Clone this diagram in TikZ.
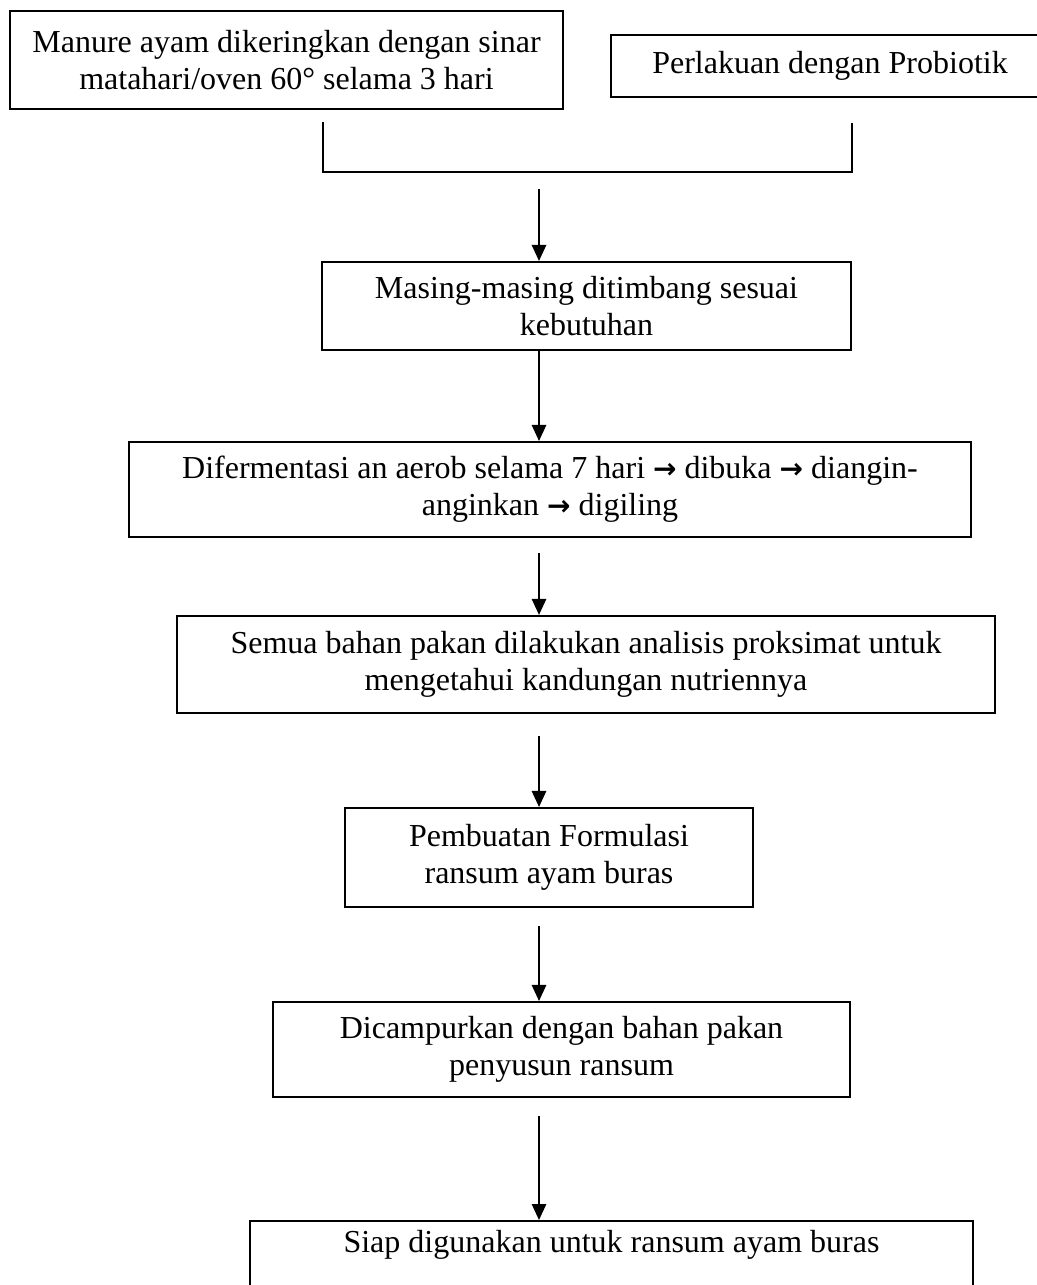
\documentclass[tikz,border=0pt]{standalone}
\usepackage{fontspec}
\setmainfont{Liberation Serif}
\newfontfamily\arrowfont{DejaVu Sans}
\usetikzlibrary{arrows.meta,positioning}
\newcommand{\thento}{{\arrowfont\bfseries\fontsize{10.5}{12}\selectfont →}}

\begin{document}
\begin{tikzpicture}[x=0.375pt,y=-0.375pt,
  box/.style={draw,line width=0.8pt,inner sep=0pt,align=center,
              font=\fontsize{12}{13.9}\selectfont},
  a/.style={-{Triangle[length=6pt,width=5.4pt]},line width=0.6pt}]
 \useasboundingbox (0,0) rectangle (1036,1285);
 \node[box,minimum width=207.4pt,minimum height=36.75pt] (dry) at (286.5,60)
   {Manure ayam dikeringkan dengan sinar\\ matahari/oven 60° selama 3 hari};
 \node[box,minimum width=164.3pt,minimum height=23.25pt] (pro) at (830,66)
   {Perlakuan dengan Probiotik};
 \node[box,minimum width=198.4pt,minimum height=33pt] (weigh) at (586.5,306)
   {Masing-masing ditimbang sesuai\\ kebutuhan};
 \node[box,minimum width=315.75pt,minimum height=35.6pt] (ferm) at (550,489.5)
   {Difermentasi an aerob selama 7 hari \thento{} dibuka \thento{} diangin-\\ anginkan \thento{} digiling};
 \node[box,minimum width=306.75pt,minimum height=36.4pt] (prox) at (586,664.5)
   {Semua bahan pakan dilakukan analisis proksimat untuk\\ mengetahui kandungan nutriennya};
 \node[box,minimum width=153pt,minimum height=37.1pt] (form) at (549,857.5)
   {Pembuatan Formulasi\\ ransum ayam buras};
 \node[box,minimum width=216.4pt,minimum height=35.6pt] (mix) at (561.5,1049.5)
   {Dicampurkan dengan bahan pakan\\ penyusun ransum};
 \node[box,anchor=north,minimum width=271.1pt,text height=11.6pt,text depth=30pt] (ready) at (611.5,1220)
   {Siap digunakan untuk ransum ayam buras};
 \coordinate (col) at (539,0);
 \coordinate (jl) at (323,122);
 \coordinate (jr) at (852,123);
 \coordinate (jm) at (539,172);
 \draw[line width=0.8pt] (jl) -- (jl |- jm) -- (jr |- jm) -- (jr);
 \draw[a,shorten <=6.4pt] (jm) -- (col |- weigh.north);
 \draw[a] (col |- weigh.south) -- (col |- ferm.north);
 \draw[a,shorten <=5.6pt] (col |- ferm.south) -- (col |- prox.north);
 \draw[a,shorten <=8.3pt] (col |- prox.south) -- (col |- form.north);
 \draw[a,shorten <=6.8pt] (col |- form.south) -- (col |- mix.north);
 \draw[a,shorten <=6.8pt] (col |- mix.south) -- (col |- ready.north);
\end{tikzpicture}
\end{document}
